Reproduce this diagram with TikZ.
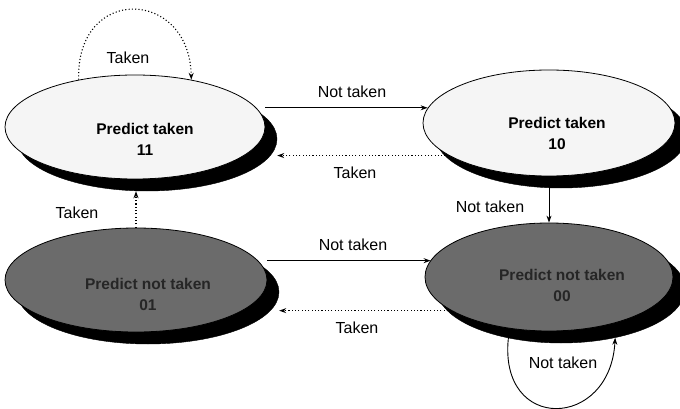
\documentclass[tikz,border=0pt]{standalone}
\usepackage{fontspec}
\setmainfont{Liberation Sans}
\usetikzlibrary{shapes.geometric,arrows.meta}
\begin{document}
\begin{tikzpicture}[x=1pt,y=-1pt,
  shadowE/.style={ellipse, fill=black, draw=black, inner sep=0pt},
  stateL/.style={ellipse, draw=black, line width=0.8pt, fill=gray!8, inner sep=0pt},
  stateD/.style={ellipse, draw=black, line width=0.8pt, fill=black!58, inner sep=0pt},
  stext/.style={font=\bfseries\fontsize{15.5}{21}\selectfont, align=center, inner sep=0pt},
  lbl/.style={font=\fontsize{16}{19}\selectfont, inner sep=0pt},
  solidarr/.style={line width=0.9pt, -{Stealth[length=7pt,width=5pt]}},
  dotarr/.style={line width=1.1pt, dash pattern=on 1.1pt off 2.2pt, -{Stealth[length=7pt,width=5pt]}}
]
\useasboundingbox (0,0) rectangle (680,409);

% shadows
\node[shadowE, minimum width=260pt, minimum height=104pt] (s11sh) at (147,139) {};
\node[shadowE, minimum width=252pt, minimum height=106pt] (s10sh) at (561,135) {};
\node[shadowE, minimum width=262pt, minimum height=104pt] (s01sh) at (148,292) {};
\node[shadowE, minimum width=248pt, minimum height=108pt] (s00sh) at (561,289) {};

% states
\node[stateL, minimum width=260pt, minimum height=104pt] (s11) at (135,127) {};
\node[stateL, minimum width=252pt, minimum height=106pt] (s10) at (549,123) {};
\node[stateD, minimum width=262pt, minimum height=104pt] (s01) at (136,280) {};
\node[stateD, minimum width=248pt, minimum height=108pt] (s00) at (549,277) {};

% state texts
\node[stext] (t11) at (145,139) {Predict taken\\11};
\node[stext] (t10) at (557,133) {Predict taken\\10};
\node[stext, text=black!85] (t01) at (148,294) {Predict not taken\\01};
\node[stext, text=black!85] (t00) at (562,285) {Predict not taken\\00};

% connectors
\draw[solidarr] (s11.9 -| s11.east) -- (s11.9 -| s10.173);
\draw[dotarr] (s10.198) -- (s10.198 -| s11sh.east);
\draw[solidarr] (s00.north |- s10sh.south) -- (s00.north);
\draw[dotarr] (s01.north) -- (s01.north |- s11sh.south);
\draw[solidarr] (s01.9 -| s01.east) -- (s01.9 -| s00.172);
\draw[dotarr] (s00.199) -- (s00.199 -| s01sh.east);
\draw[dotarr] (s11.140) .. controls +(-3,-95) and +(-2,-92) .. (s11.40);
\draw[solidarr] (s00sh.223) .. controls +(-10,95) and +(-5,92) .. (s00sh.318);

% labels
\node[lbl] (l1) at (352,92) {Not taken};
\node[lbl] (l2) at (355,173) {Taken};
\node[lbl] (l3) at (490,207) {Not taken};
\node[lbl] (l4) at (77,213) {Taken};
\node[lbl] (l5) at (353,245) {Not taken};
\node[lbl] (l6) at (357,328) {Taken};
\node[lbl] (l7) at (128,58) {Taken};
\node[lbl] (l8) at (563,363) {Not taken};
\end{tikzpicture}
\end{document}
